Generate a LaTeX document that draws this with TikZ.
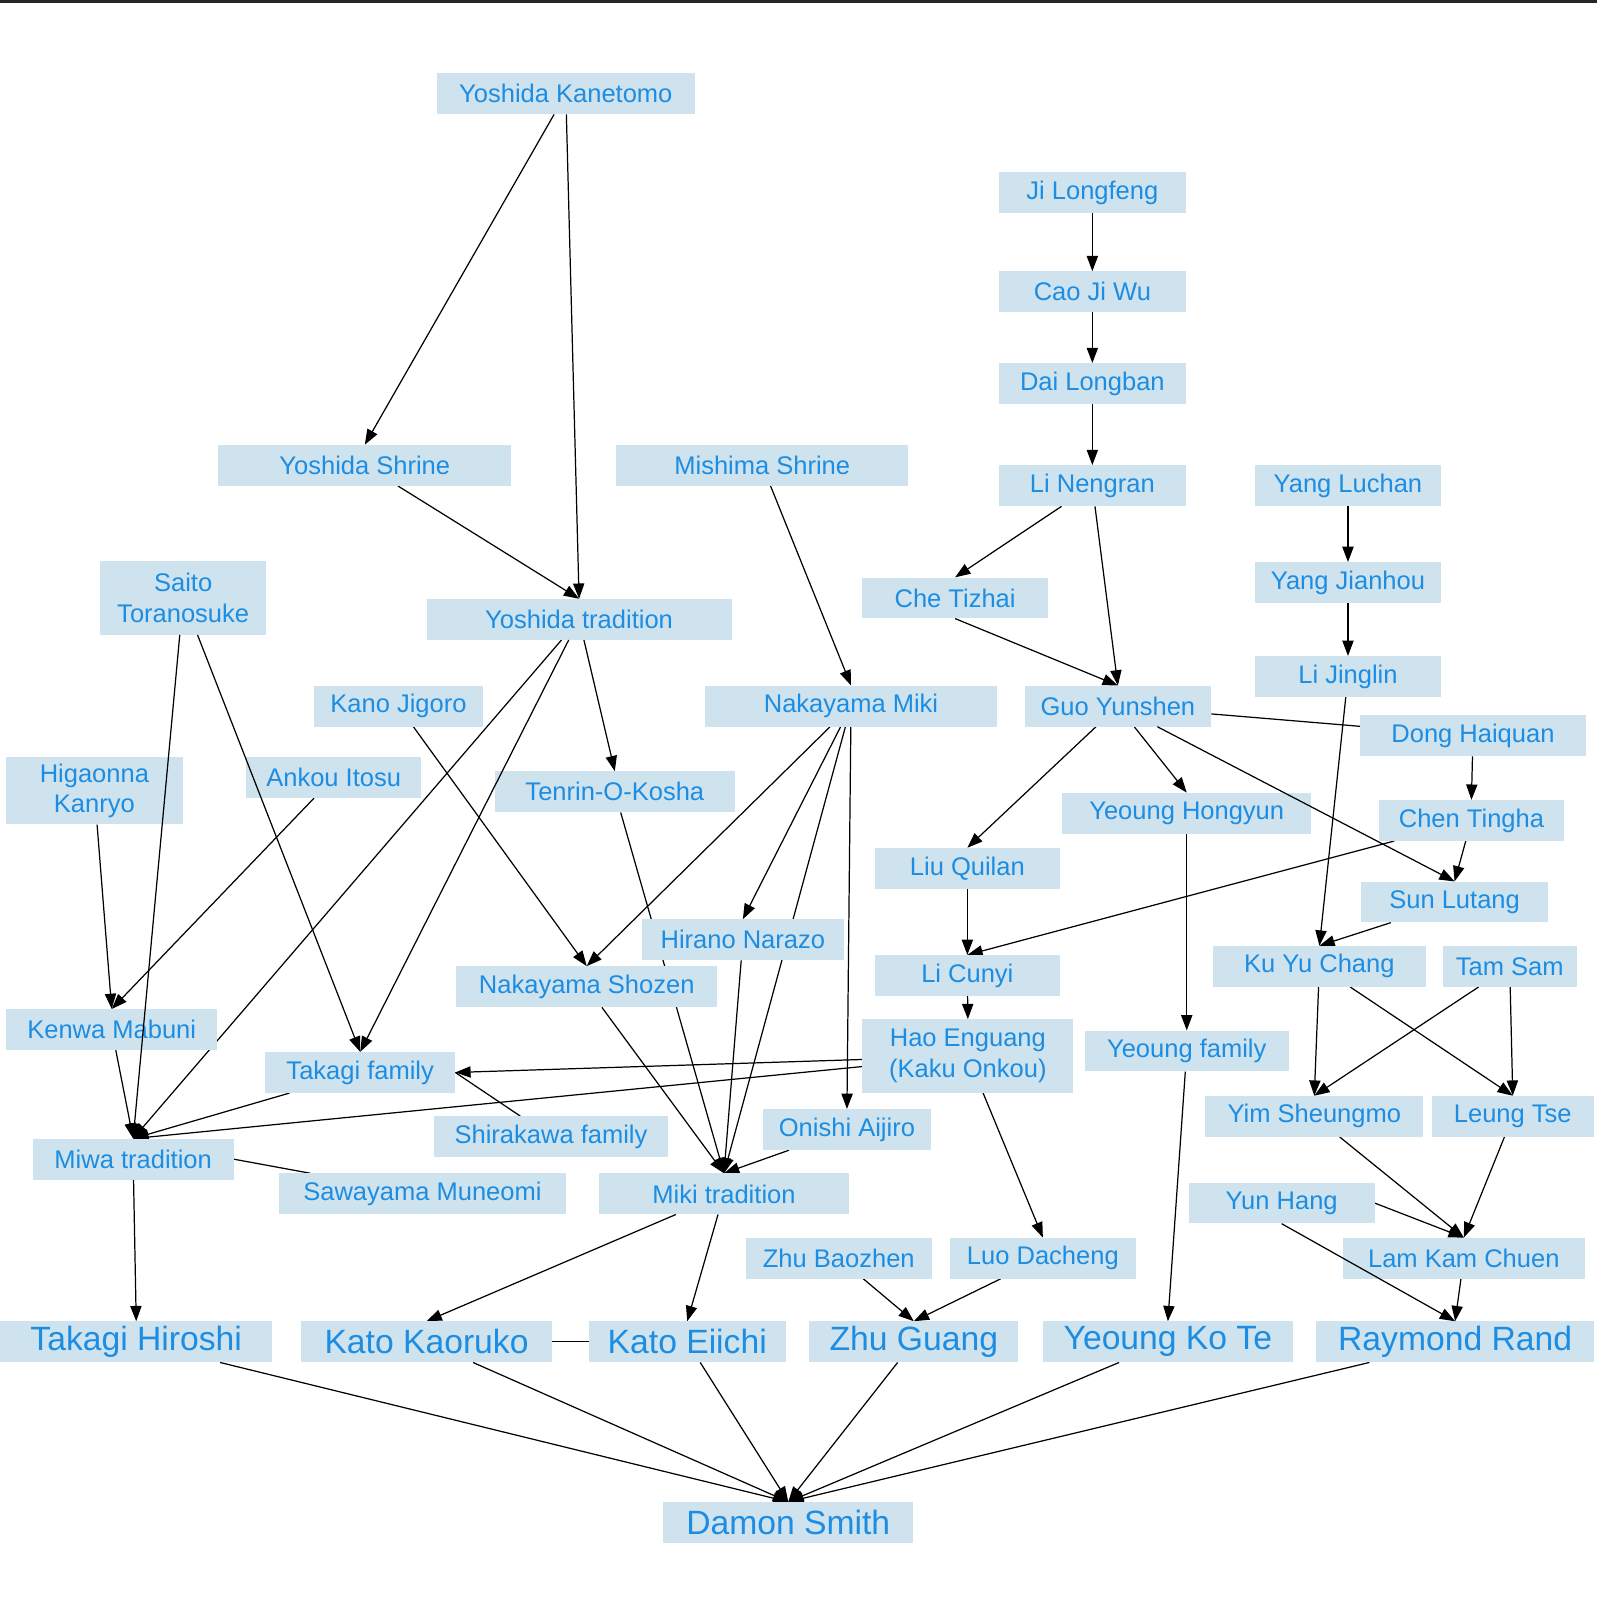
\documentclass[tikz,border=0pt]{standalone}
\usepackage{fontspec}
\setmainfont{Liberation Sans}
\usetikzlibrary{arrows.meta,backgrounds}

\definecolor{boxblue}{RGB}{206,227,237}
\definecolor{nameblue}{RGB}{28,141,226}
\definecolor{topbar}{RGB}{38,38,38}

\begin{document}
\begin{tikzpicture}[x=1pt,y=-1pt,
  person/.style={rectangle, fill=boxblue, text=nameblue, inner sep=0pt,
    minimum height=40pt, align=center, font=\fontsize{25}{30}\selectfont},
  heir/.style={person, font=\fontsize{33}{38}\selectfont},
  taught/.style={-{Triangle[length=15pt,width=11pt]}, line width=1.2pt},
  linked/.style={line width=1.2pt}]

\useasboundingbox (0,0) rectangle (1565,1568);
\fill[topbar] (0,0) rectangle (1565,3);

% Yoshida line
\node[person, minimum width=253pt] (ykan) at (554.5,92) {Yoshida Kanetomo};
\node[person, minimum width=287pt] (yshrine) at (357.5,456) {Yoshida Shrine};
\node[person, minimum width=286pt] (mshrine) at (747,456) {Mishima Shrine};
\node[person, minimum width=299pt] (ytrad) at (567.5,607) {Yoshida tradition};
\node[person, minimum width=163pt, minimum height=72pt] (saito) at (179.5,586) {Saito\\Toranosuke};
\node[person, minimum width=165pt] (kano) at (390.5,692) {Kano Jigoro};
\node[person, minimum width=286pt] (nmiki) at (834,692) {Nakayama Miki};
\node[person, minimum width=173pt, minimum height=66pt] (higa) at (92.5,775) {Higaonna\\Kanryo};
\node[person, minimum width=172pt] (ankou) at (327,762) {Ankou Itosu};
\node[person, minimum width=235pt] (tenrin) at (602.5,776) {Tenrin-O-Kosha};
\node[person, minimum width=198pt] (hirano) at (728,921) {Hirano Narazo};
\node[person, minimum width=256pt] (nshozen) at (575,967) {Nakayama Shozen};
\node[person, minimum width=207pt] (kenwa) at (109.5,1009) {Kenwa Mabuni};
\node[person, minimum width=186pt] (takfam) at (353,1051) {Takagi family};
\node[person, minimum width=230pt] (shira) at (540,1114) {Shirakawa family};
\node[person, minimum width=164pt] (onishi) at (830,1107) {Onishi Aijiro};
\node[person, minimum width=197pt] (miwa) at (130.5,1136) {Miwa tradition};
\node[person, minimum width=282pt] (sawa) at (414,1170) {Sawayama Muneomi};
\node[person, minimum width=245pt] (mikit) at (709.5,1170) {Miki tradition};

% Chinese lines
\node[person, minimum width=183pt] (jilong) at (1070.5,189) {Ji Longfeng};
\node[person, minimum width=183pt] (caoji) at (1070.5,286) {Cao Ji Wu};
\node[person, minimum width=183pt] (dailong) at (1070.5,376) {Dai Longban};
\node[person, minimum width=183pt] (linen) at (1070.5,476) {Li Nengran};
\node[person, minimum width=182pt] (yangl) at (1321,476) {Yang Luchan};
\node[person, minimum width=182pt] (che) at (936,586) {Che Tizhai};
\node[person, minimum width=182pt] (yangj) at (1321,571) {Yang Jianhou};
\node[person, minimum width=182pt] (lijing) at (1321,663) {Li Jinglin};
\node[person, minimum width=183pt] (guo) at (1095.5,692) {Guo Yunshen};
\node[person, minimum width=221pt] (dong) at (1443.5,721) {Dong Haiquan};
\node[person, minimum width=244pt] (yhong) at (1163,797) {Yeoung Hongyun};
\node[person, minimum width=182pt] (chen) at (1442,804) {Chen Tingha};
\node[person, minimum width=182pt] (liu) at (948,851) {Liu Quilan};
\node[person, minimum width=183pt] (sun) at (1425.5,884) {Sun Lutang};
\node[person, minimum width=182pt] (licun) at (948,956) {Li Cunyi};
\node[person, minimum width=208pt] (kuyu) at (1293,947) {Ku Yu Chang};
\node[person, minimum width=131pt] (tam) at (1479.5,947) {Tam Sam};
\node[person, minimum width=207pt, minimum height=72pt] (hao) at (948.5,1035) {Hao Enguang\\(Kaku Onkou)};
\node[person, minimum width=200pt] (yfam) at (1163,1030) {Yeoung family};
\node[person, minimum width=214pt] (yim) at (1288,1094) {Yim Sheungmo};
\node[person, minimum width=159pt] (leung) at (1482.5,1094) {Leung Tse};
\node[person, minimum width=182pt] (yun) at (1256,1179) {Yun Hang};
\node[person, minimum width=182pt] (zhub) at (822,1233) {Zhu Baozhen};
\node[person, minimum width=182pt] (luo) at (1022,1233) {Luo Dacheng};
\node[person, minimum width=237pt] (lam) at (1434.5,1233) {Lam Kam Chuen};

% Bottom row
\node[heir, minimum width=267pt] (takh) at (133.5,1315) {Takagi Hiroshi};
\node[heir, minimum width=246pt] (katok) at (418,1315) {Kato Kaoruko};
\node[heir, minimum width=193pt] (katoe) at (673.5,1315) {Kato Eiichi};
\node[heir, minimum width=205pt] (zhug) at (895.5,1315) {Zhu Guang};
\node[heir, minimum width=245pt] (yko) at (1144.5,1315) {Yeoung Ko Te};
\node[heir, minimum width=272pt] (rand) at (1426,1315) {Raymond Rand};
\node[heir, minimum width=245pt] (damon) at (772.5,1492) {Damon Smith};

\begin{scope}[on background layer]
% Japanese edges
\draw[taught] (ykan) -- (yshrine.north);
\draw[taught] (ykan) -- (ytrad.north);
\draw[taught] (yshrine) -- (ytrad.north);
\draw[taught] (mshrine) -- (nmiki.north);
\draw[taught] (ytrad) -- (miwa.north);
\draw[taught] (ytrad) -- (tenrin.north);
\draw[taught] (kano) -- (nshozen.north);
\draw[taught] (nmiki) -- (nshozen.north);
\draw[taught] (nmiki) -- (hirano.north);
\draw[taught] (nmiki) -- (mikit.north);
\draw[taught] (nmiki) -- (onishi.north);
\draw[taught] (higa) -- (kenwa.north);
\draw[taught] (ankou) -- (kenwa.north);
\draw[taught] (tenrin) -- (mikit.north);
\draw[taught] (hirano) -- (mikit.north);
\draw[taught] (nshozen) -- (mikit.north);
\draw[taught] (onishi) -- (mikit.north);
\draw[taught] (kenwa) -- (miwa.north);
\draw[taught] (takfam) -- (miwa.north);
\draw[linked] (takfam.east) -- (shira);
\draw[linked] (miwa.east) -- (sawa);
\draw[taught] (miwa) -- (takh.north);
\draw[taught] (mikit) -- (katok.north);
\draw[taught] (mikit) -- (katoe.north);
\draw[linked] (katok) -- (katoe);

% Chinese edges
\draw[taught] (jilong) -- (caoji.north);
\draw[taught] (caoji) -- (dailong.north);
\draw[taught] (dailong) -- (linen.north);
\draw[taught] (linen) -- (che.north);
\draw[taught] (linen) -- (guo.north);
\draw[taught] (che.south) -- (guo.north);
\draw[taught] (yangl) -- (yangj.north);
\draw[taught] (yangj) -- (lijing.north);
\draw[taught] (lijing) -- (kuyu.north);
\draw[taught] (guo) -- (liu.north);
\draw[taught] (guo) -- (yhong.north);
\draw[linked] (guo) -- (dong);
\draw[taught] (dong) -- (chen.north);
\draw[taught] (chen) -- (sun.north);
\draw[taught] (chen) -- (licun.north);
\draw[taught] (liu) -- (licun.north);
\draw[taught] (sun) -- (kuyu.north);
\draw[taught] (licun) -- (hao.north);
\draw[taught] (hao) -- (takfam.east);
\draw[taught] (hao) -- (miwa.north);
\draw[taught] (hao) -- (luo.north);
\draw[taught] (yhong) -- (yfam.north);
\draw[taught] (yfam) -- (yko.north);
\draw[taught] (kuyu) -- (yim.north);
\draw[taught] (kuyu) -- (leung.north);
\draw[taught] (tam) -- (yim.north);
\draw[taught] (tam) -- (leung.north);
\draw[taught] (yim) -- (lam.north);
\draw[taught] (leung) -- (lam.north);
\draw[taught] (yun.east) -- (lam.north);
\draw[taught] (lam) -- (rand.north);
\draw[taught] (zhub) -- (zhug.north);
\draw[taught] (luo) -- (zhug.north);

% Into Damon Smith
\foreach \from in {takh,katok,katoe,zhug,yko,rand}
  \draw[taught] (\from) -- (damon.north);
\end{scope}

% these lines run over the boxes they cross
\draw[taught] (saito) -- (miwa.north);
\draw[taught] (saito) -- (takfam.north);
\draw[taught] (ytrad) -- (takfam.north);
\draw[taught] (guo) -- (sun.north);
\draw[taught] (yun.south) -- (rand.north);

\end{tikzpicture}
\end{document}
